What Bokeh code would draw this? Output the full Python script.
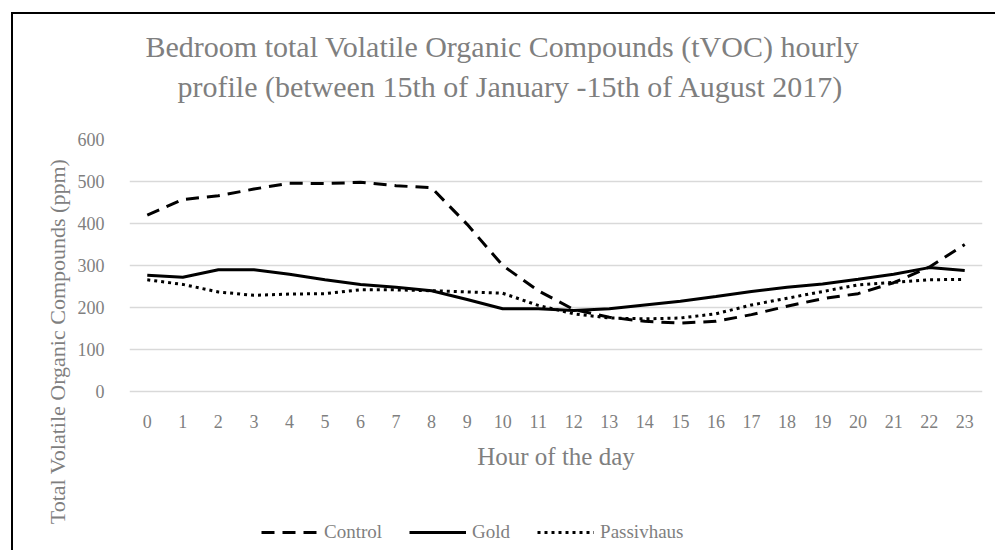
from bokeh.plotting import figure
from bokeh.models import Legend, LegendItem, FixedTicker, Range1d, FactorRange, Title
from bokeh.embed import file_html
from bokeh.resources import INLINE

hours = [str(h) for h in range(24)]
control = [420, 457, 466, 482, 496, 495, 498, 490, 485, 398, 300, 240, 195, 177, 167, 163, 167, 183, 203, 221, 233, 259, 296, 350]
gold = [277, 272, 290, 290, 279, 266, 255, 248, 240, 219, 197, 197, 193, 197, 206, 215, 226, 238, 248, 256, 267, 279, 295, 288]
passivhaus = [266, 255, 237, 229, 232, 233, 242, 242, 240, 237, 234, 205, 185, 175, 173, 175, 185, 206, 222, 238, 254, 260, 266, 267]
y_ticks = [0, 100, 200, 300, 400, 500, 600]

title1 = "Bedroom total Volatile Organic Compounds (tVOC) hourly"
title2 = "profile (between 15th of January -15th of August 2017)"
x_title = "Hour of the day"
y_title = "Total Volatile Organic Compounds (ppm)"

FONT = "Liberation Serif"
GRAY = "#7f7f7f"

# layout: value axis 0..600 occupies 252 px; the frame extends below it
# to hold the category labels, axis title and legend
FRAME_H = 404
AXIS_H = 252
Y_MAX = 600
y_start = Y_MAX - Y_MAX * FRAME_H / AXIS_H

p = figure(width=984, height=538,
           x_range=FactorRange(*hours, range_padding=0),
           y_range=Range1d(y_start, Y_MAX),
           output_backend="svg", toolbar_location=None,
           min_border_left=116, min_border_right=15,
           min_border_top=125, min_border_bottom=9)
p.styles = {"border-left": "2px solid #000", "border-top": "2px solid #000",
            "margin-left": "11px", "margin-top": "12px"}
p.title.visible = False
p.outline_line_color = None
p.background_fill_color = "white"
p.border_fill_color = "white"

for ax in (p.xaxis[0], p.yaxis[0]):
    ax.axis_line_color = None
    ax.major_tick_line_color = None
    ax.minor_tick_line_color = None
    ax.major_label_text_font = FONT
    ax.major_label_text_font_size = "18px"
    ax.major_label_text_color = GRAY
    ax.axis_label_text_font = FONT
    ax.axis_label_text_font_style = "normal"
    ax.axis_label_text_color = GRAY

xa = p.xaxis[0]
xa.fixed_location = 0
xa.major_label_standoff = 17
xa.axis_label = x_title
xa.axis_label_text_font_size = "25px"
xa.axis_label_standoff = 12

ya = p.yaxis[0]
ya.ticker = FixedTicker(ticks=y_ticks)
ya.major_label_standoff = 19
ya.axis_label = y_title
ya.axis_label_text_font_size = "22px"
ya.axis_label_standoff = 5

p.xgrid.grid_line_color = None
p.ygrid.grid_line_color = "#d9d9d9"
p.ygrid.grid_line_width = 1.5

r_c = p.line(hours, control, line_color="black", line_width=3, line_dash="13 8")
r_g = p.line(hours, gold, line_color="black", line_width=3)
r_p = p.line(hours, passivhaus, line_color="black", line_width=3, line_dash="3 4")

def title(text, offset, standoff, size):
    p.add_layout(Title(text=text, align="left", offset=offset, standoff=standoff,
                       vertical_align="bottom",
                       text_font=FONT, text_font_size=size, text_font_style="normal",
                       text_color=GRAY), "above")

title(" ", 0, 21, "10px")       # spacer between frame and titles
title(title2, 48, 5, "30px")
title(title1, 16, 5, "30px")

legend = Legend(items=[LegendItem(label="Control", renderers=[r_c]),
                       LegendItem(label="Gold", renderers=[r_g]),
                       LegendItem(label="Passivhaus", renderers=[r_p])],
                orientation="horizontal", location=(132, 0),
                glyph_width=57, glyph_height=20, label_standoff=6, spacing=27,
                padding=0, margin=0, border_line_color=None,
                background_fill_alpha=0,
                label_text_font=FONT, label_text_font_size="19px",
                label_text_color=GRAY)
p.add_layout(legend)

open("out.html", "w").write(file_html(p, INLINE))
